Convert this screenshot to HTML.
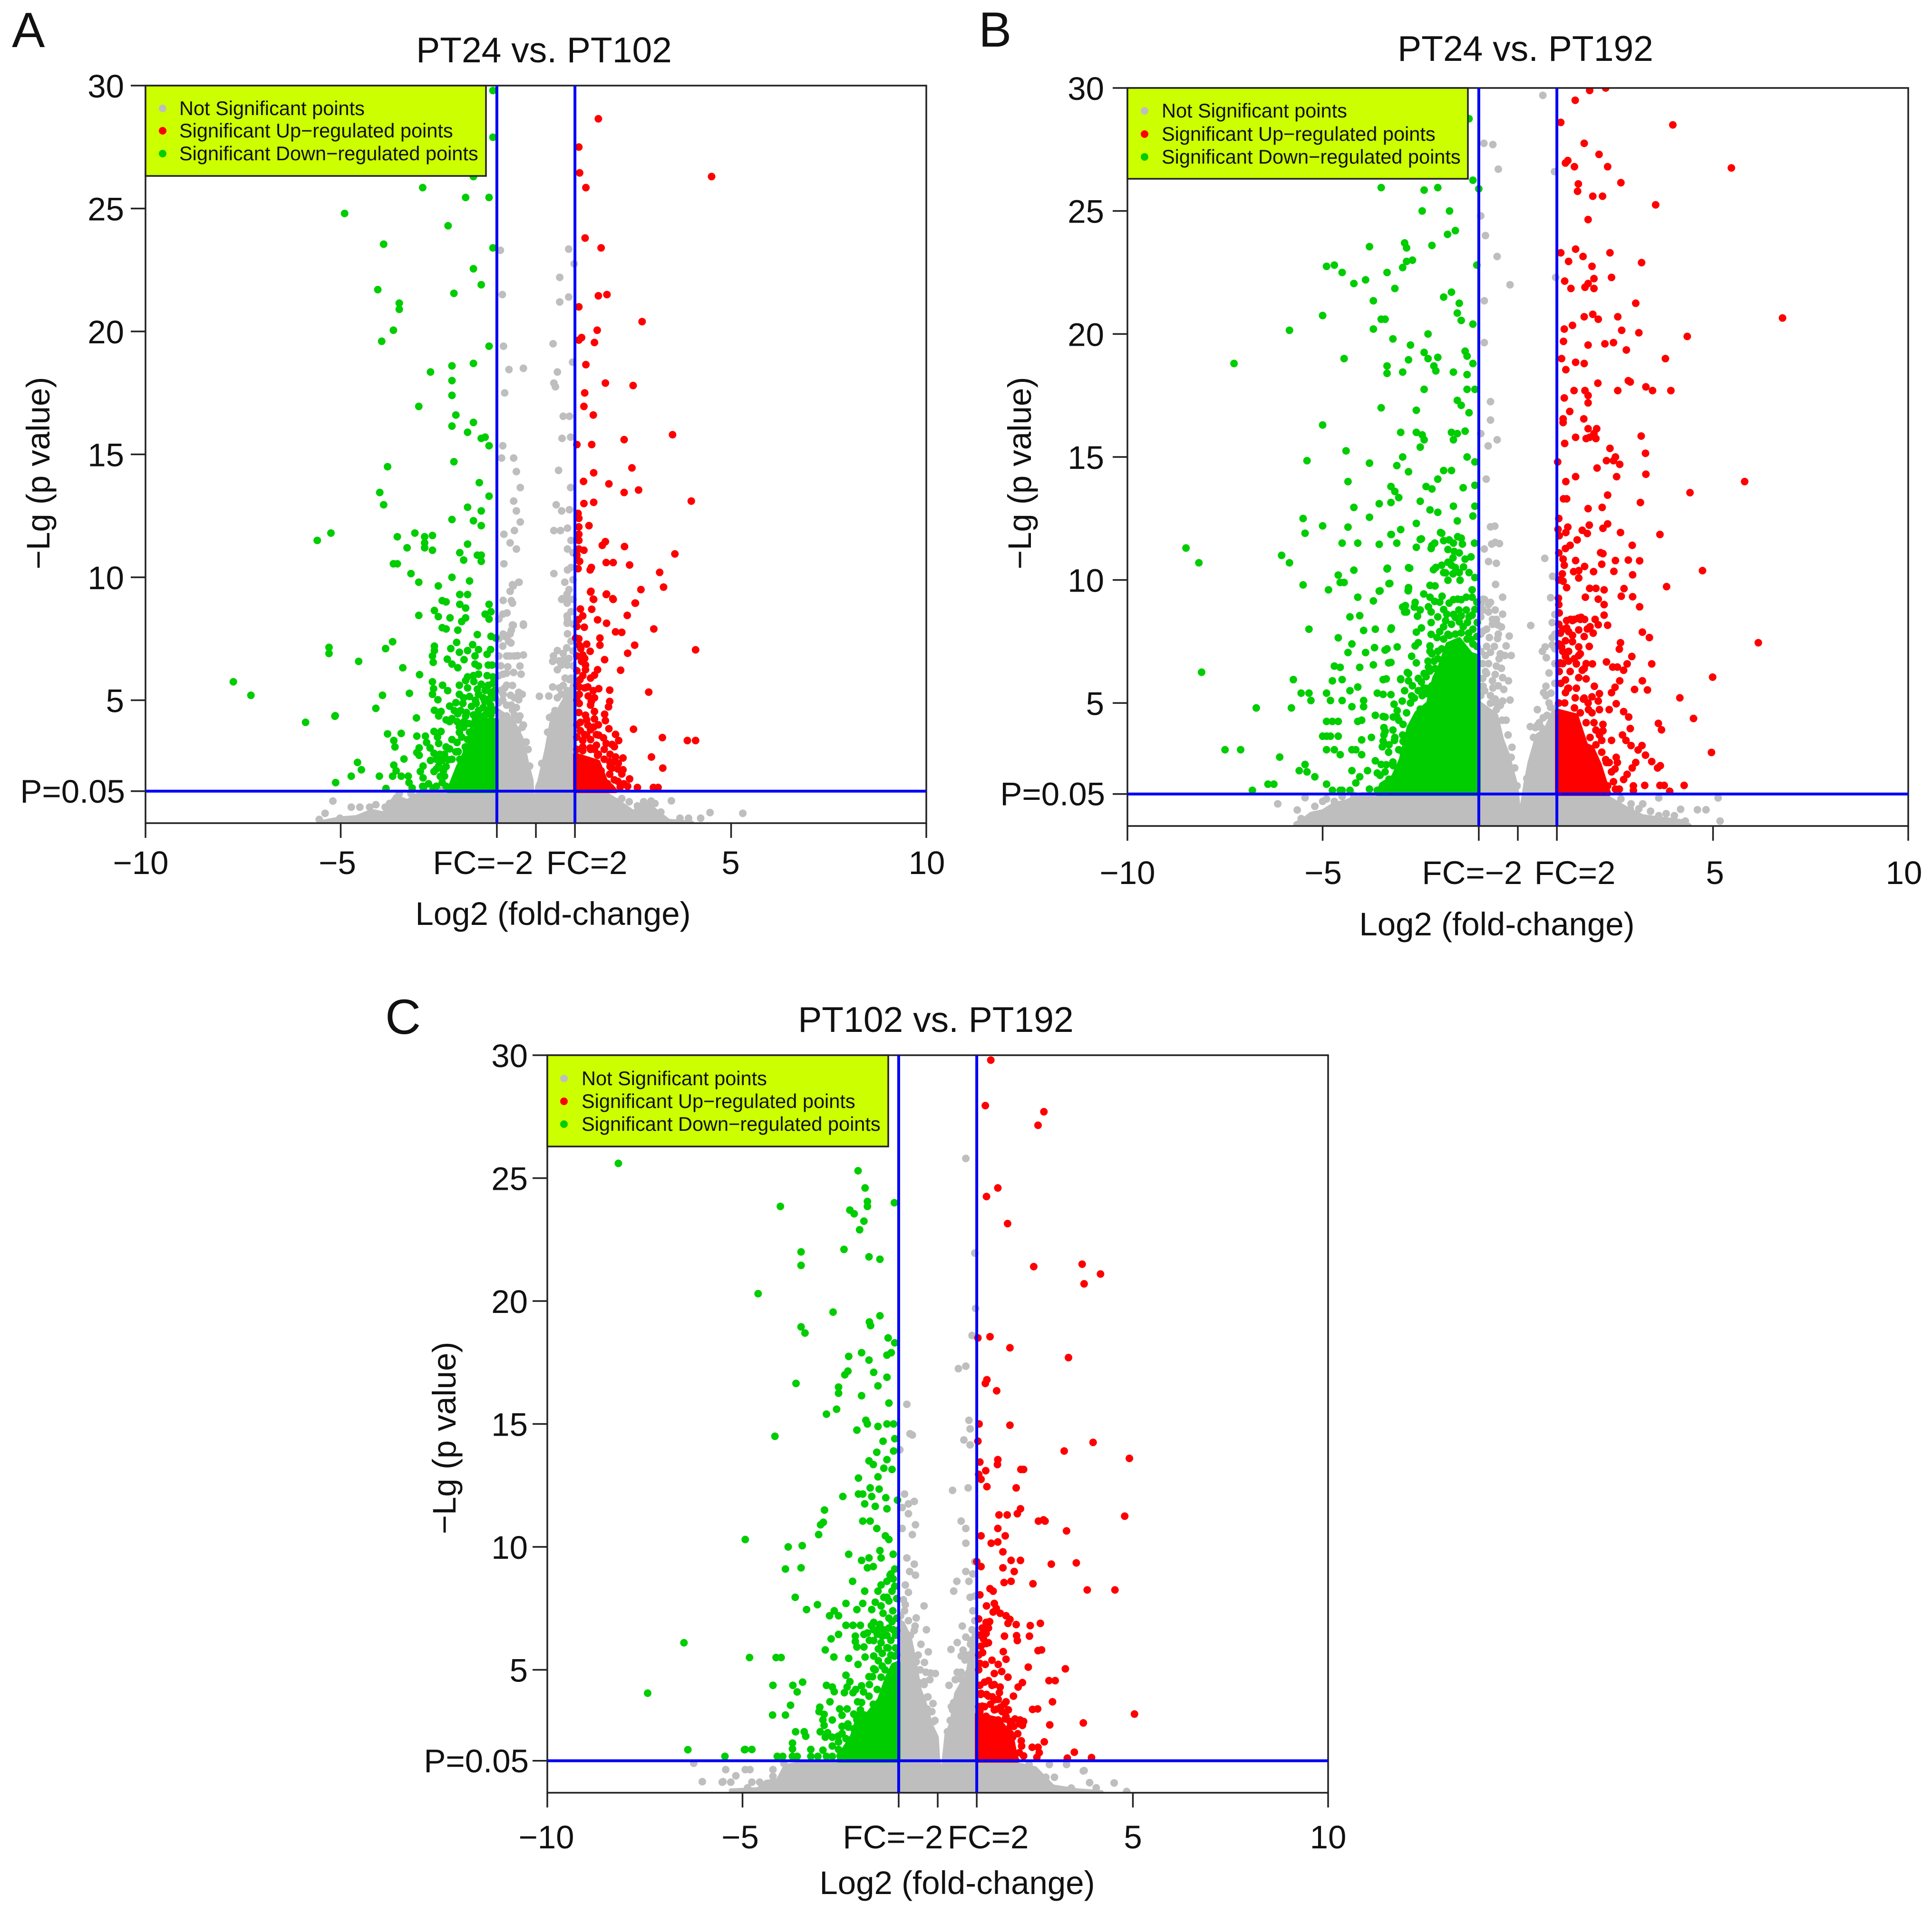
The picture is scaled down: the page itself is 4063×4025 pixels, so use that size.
<!DOCTYPE html>
<html lang="en">
<head>
<meta charset="utf-8">
<title>Volcano plots</title>
<style>
html,body{margin:0;padding:0;background:#fff;}
svg{display:block;}
text{font-family:"Liberation Sans",Arial,sans-serif;fill:#111;}
</style>
</head>
<body>
<svg id="figure" xmlns="http://www.w3.org/2000/svg" width="4063" height="4025" viewBox="0 0 4063 4025">
<rect width="4063" height="4025" fill="#fff"/>
<defs>
<clipPath id="clip-a"><rect x="306" y="180" width="1642" height="1551"/></clipPath>
<clipPath id="clip-b"><rect x="2371" y="185" width="1642" height="1552"/></clipPath>
<clipPath id="clip-c"><rect x="1151" y="2219" width="1642" height="1551"/></clipPath>
</defs>

<g id="panel-a">
<text x="25" y="99" font-size="104">A</text>
<text x="1144" y="131" font-size="75" text-anchor="middle">PT24 vs. PT102</text>
<text x="1163" y="1945" font-size="69" text-anchor="middle">Log2 (fold-change)</text>
<text transform="translate(104,995) rotate(-90)" font-size="69" text-anchor="middle">−Lg (p value)</text>
<g id="marks-a" clip-path="url(#clip-a)"></g>
<g id="axes-a"></g>
<g>
<rect x="306" y="180" width="716" height="190" fill="#ccff00" stroke="#222" stroke-width="3.5"/>
<circle cx="342" cy="228" r="8" fill="#bebebe"/>
<circle cx="342" cy="275" r="8" fill="#ff0000"/>
<circle cx="342" cy="323" r="8" fill="#00cd00"/>
<text x="377" y="242" font-size="41.5">Not Significant points</text>
<text x="377" y="289" font-size="41.5">Significant Up−regulated points</text>
<text x="377" y="337" font-size="41.5">Significant Down−regulated points</text>
</g>
</g>

<g id="panel-b">
<text x="2058" y="98" font-size="104">B</text>
<text x="3208" y="128" font-size="75" text-anchor="middle">PT24 vs. PT192</text>
<text x="3148" y="1967" font-size="69" text-anchor="middle">Log2 (fold-change)</text>
<text transform="translate(2168,995) rotate(-90)" font-size="69" text-anchor="middle">−Lg (p value)</text>
<g id="marks-b" clip-path="url(#clip-b)"></g>
<g id="axes-b"></g>
<g>
<rect x="2371" y="185" width="716" height="191" fill="#ccff00" stroke="#222" stroke-width="3.5"/>
<circle cx="2407" cy="233" r="8" fill="#bebebe"/>
<circle cx="2407" cy="282" r="8" fill="#ff0000"/>
<circle cx="2407" cy="330" r="8" fill="#00cd00"/>
<text x="2443" y="247" font-size="41.5">Not Significant points</text>
<text x="2443" y="296" font-size="41.5">Significant Up−regulated points</text>
<text x="2443" y="344" font-size="41.5">Significant Down−regulated points</text>
</g>
</g>

<g id="panel-c">
<text x="810" y="2174" font-size="104">C</text>
<text x="1968" y="2170" font-size="75" text-anchor="middle">PT102 vs. PT192</text>
<text x="2013" y="3983" font-size="69" text-anchor="middle">Log2 (fold-change)</text>
<text transform="translate(958,3024) rotate(-90)" font-size="69" text-anchor="middle">−Lg (p value)</text>
<g id="marks-c" clip-path="url(#clip-c)"></g>
<g id="axes-c"></g>
<g>
<rect x="1151" y="2219" width="717" height="192" fill="#ccff00" stroke="#222" stroke-width="3.5"/>
<circle cx="1186" cy="2268" r="8" fill="#bebebe"/>
<circle cx="1186" cy="2316" r="8" fill="#ff0000"/>
<circle cx="1186" cy="2364" r="8" fill="#00cd00"/>
<text x="1223" y="2282" font-size="41.5">Not Significant points</text>
<text x="1223" y="2330" font-size="41.5">Significant Up−regulated points</text>
<text x="1223" y="2378" font-size="41.5">Significant Down−regulated points</text>
</g>
</g>
</svg>

<script>
const xTickValues=[-10,-5,-1,0,1,5,10];
const xTickLabels=['−10','−5','FC=−2','','FC=2','5','10'];
const yTickValues=[5,10,15,20,25,30];
const yTickLabels=['5','10','15','20','25','30'];
const pThreshold=1.3;
const pLabel='P=0.05';
const fcThresholds=[-1,1];

/* Dense cloud outlines: [log2 fold change, upper -lg p] */
const aGrayProfile=[[-5.5,.05],[-5,.2],[-4.6,.25],[-4.2,.5],[-3.9,.4],[-3.6,1.1],[-3.3,.9],[-3,1.2],[-2.5,1.4],[-1,1.4],[-.98,4.6],[-.6,4.2],[-.35,3.4],[-.23,2.5],[-.11,1.76],[-.06,.5],[-.02,.45],[.03,1.5],[.08,1.68],[.27,3],[.39,4.06],[.7,4.95],[.9,5.5],[1,6],[1.02,1.3],[1.8,1.2],[2.1,.9],[2.5,.45],[2.8,.9],[3,.6],[3.4,.1],[4,.03]];
const aDownProfile=[[-2.25,1.3],[-2,2.3],[-1.72,3.2],[-1.6,4.2],[-1.07,4.2],[-1,4.2]];
const aUpProfile=[[1,2.8],[1.6,2.5],[1.8,1.7],[1.95,1.5],[2.05,1.3]];
const bGrayProfile=[[-5.7,.1],[-5.5,.25],[-5.3,.5],[-5,.6],[-4.7,.9],[-4.4,1],[-4,1.3],[-1,1.3],[-.98,5],[-.8,4.8],[-.55,4.5],[-.4,3.5],[-.25,2.9],[-.1,2],[-.03,1.6],[.02,.7],[.07,.5],[.12,1],[.2,1.8],[.3,2.6],[.5,3.7],[.7,3.9],[.9,4.6],[1,5],[1.02,1.3],[2.27,1.2],[2.65,.85],[2.83,.68],[3.2,.4],[4.2,.2],[4.4,.03]];
const bDownProfile=[[-3.6,1.3],[-3.5,1.7],[-3.2,2],[-3,2.7],[-2.8,4],[-2.6,4.6],[-2.3,5],[-2.15,6],[-2,6.5],[-1.8,7.4],[-1.5,7.6],[-1.2,7],[-1,6.9]];
const bUpProfile=[[1,4.7],[1.5,4.5],[1.75,3.3],[1.9,3.2],[2.1,2.5],[2.3,1.5],[2.35,1.3]];
const cGrayProfile=[[-5.3,.1],[-4.6,.15],[-4.4,.45],[-4.1,.5],[-3.9,1.1],[-3.5,1.2],[-1,1.3],[-.98,7],[-.89,6.9],[-.71,6.3],[-.58,5.3],[-.46,4.2],[-.34,3.7],[-.15,2.7],[-.02,2.26],[.01,1.44],[.08,.8],[.12,.7],[.16,1.44],[.22,2.33],[.35,2.85],[.47,4.04],[.6,4.4],[.78,5],[.94,6.6],[1,6.6],[1.02,1.3],[1.9,1.22],[2.5,1],[2.95,.26],[3.6,.1],[4.2,.03]];
const cDownProfile=[[-2.55,1.3],[-2.4,1.8],[-2.2,2.3],[-2,3.3],[-1.8,3.2],[-1.5,3.8],[-1.3,4.7],[-1.15,5.2],[-1,5.3]];
const cUpProfile=[[1,3.2],[1.55,3],[1.75,2.6],[1.9,2.3],[2,1.5],[2.05,1.3]];

/* Panel A points: [log2 fold change, -lg p] */
const aGray=[[-.91,23.3],[.84,23.35],[.98,22.75],[.61,22.2],[-.86,21.5],[.84,21.4],[.61,21.2],[-.83,19.4],[.44,19.5],[.94,18.75],[.55,18.35],[-.69,18.45],[-.32,18.5],[.46,17.9],[.5,17.75],[-.8,17.5],[.7,16.55],[.86,16.55],[.67,15.65],[.89,15.7],[-.85,15.35],[-.88,14.85],[-.57,14.85],[-.5,14.3],[.58,14.35],[.89,13.65],[-.4,13.65],[-.57,13.1],[.52,12.95],[.66,12.7],[-.5,12.7],[.86,12.75],[-.4,12.25],[-.82,11.75],[-.55,11.9],[.46,11.9],[.63,11.9],[-.66,11.4],[.81,12],[-.5,11.15],[.81,11.15],[-.82,10.55],[.46,10.15],[.81,10.3],[-.43,9.8],[-.58,9.65],[.74,9.8],[-.63,9.05],[.66,9.1],[.81,9.15],[-.74,8.55],[.81,8.3],[-.32,8.05],[-.58,8.05],[-.66,7.7],[.81,7.7],[-.44,9.8],[-.6,9.7],[-.66,9.43],[-.84,9.06],[-.6,8.95],[.8,9.32],[.68,9.13],[.8,8.95],[.8,8.43],[.8,8.13],[-.32,8.1],[-.6,8.06],[-.63,7.84],[-.84,7.69],[-.64,7.33],[.79,7.13],[.55,7.02],[.43,6.58],[-.66,6.8],[-.32,6.84],[-.47,6.81],[.71,6.65],[.65,6.43],[.55,6.24],[.8,6.43],[.86,5.84],[-.72,6.36],[-.41,6.39],[-.84,6.06],[-.57,6.13],[-.38,6.06],[-.75,5.61],[-.84,5.24],[-.44,5.32],[-.35,5.24],[-.44,5.02],[-.63,4.8],[.09,5.16],[.43,5.54],[.33,5.17],[.65,5.24],[.8,5.39],[.49,4.58],[-.75,4.36],[-.41,4.36],[-.32,3.99],[-.47,3.76],[-.16,2.32],[.15,2.43],[-4.73,.65],[-4.51,.65],[-4.26,.65],[-3.86,.65],[-5.02,.2],[3.47,.91],[4.46,.43],[3.69,.2],[3.91,.2],[4.22,.2],[2.76,.87],[2.39,.87],[2.07,.87],[5.3,.4],[-5.2,.9],[-5.4,.4],[-5.55,.15],[-5,.15],
[-.95,4.9],[-.85,5],[-.75,4.8],[-.6,4.6],[-.55,4.4],[-.9,5.4],[-.8,5.5],[-.65,5.2],[-.55,5.1],[-.95,6],[-.9,6.4],[-.75,6.1],[-.6,5.6],[-.95,6.8],[-.85,7.2],[-.75,6.8],[-.55,6.8],[-.95,7.5],[-.8,7.6],[-.7,7.4],[-.95,8.3],[-.85,8.5],[-.35,3.9],[-.45,4.2],[-.25,3.3],[-.2,3],[-.5,4.7],[.45,4.4],[.35,4.3],[.3,3.7],[.55,5.1],[.6,5.5],[.7,5.6],[.75,5.9],[.9,5.9],[.95,6.4],[.85,6.7],[.95,7],[.9,7.4],[.7,6.9],[.6,6.6],[.45,6.8],[.95,8.1],[.9,8.6],[.95,9.1],[.85,9.5],[.95,9.9],[.9,10.4],[.95,11],[.9,11.5],[-3.75,.8],[-4.1,.75],[-3.5,1.2],[-3.2,1.2],[2.2,1],[2.6,.7],[2.95,.9],[3.2,.45],[3.05,.8]];
const aDown=[[-1.1,29.8],[-1.1,27.9],[-1.6,26.3],[-2.9,25.85],[-1.8,25.45],[-1.2,25.45],[-4.9,24.8],[-2.25,24.3],[-3.9,23.55],[-1.1,23.4],[-1.6,22.55],[-1.4,21.9],[-4.05,21.7],[-2.1,21.55],[-3.5,21.15],[-3.5,20.9],[-3.65,20.05],[-3.95,19.6],[-1.2,19.4],[-1.6,18.7],[-2.15,18.6],[-2.7,18.35],[-2.15,18],[-2.15,17.4],[-3,16.95],[-2.05,16.6],[-1.6,16.3],[-2.15,16.15],[-1.75,15.9],[-1.4,15.65],[-1.3,15.7],[-1.2,15.35],[-2.1,14.7],[-3.8,14.5],[-4,13.45],[-1.45,13.85],[-1.2,13.3],[-3.9,12.95],[-1.75,12.85],[-1.4,12.7],[-2.15,12.35],[-1.6,12.3],[-1.4,12.1],[-5.6,11.5],[-5.25,11.8],[-3.55,11.65],[-3.1,11.8],[-2.85,11.65],[-2.85,11.4],[-2.65,11.7],[-3.3,11.2],[-2.85,11.2],[-2.65,11.1],[-1.75,11.35],[-1.95,11],[-1.5,10.9],[-1.4,10.9],[-1.85,10.7],[-1.4,10.65],[-3.65,10.55],[-3.55,10.55],[-3.2,10.15],[-3,9.8],[-2.15,10],[-1.7,9.85],[-2.5,9.65],[-1.95,9.3],[-1.75,9.3],[-2.4,9.05],[-2.3,9],[-1.95,8.9],[-1.8,8.75],[-1.2,8.9],[-1.15,8.6],[-2.6,8.65],[-2.5,8.4],[-3,8.45],[-2.2,8.35],[-1.9,8.2],[-1.8,8.35],[-1.3,8.5],[-1.2,8.3],[-2.4,7.95],[-2.3,7.9],[-2,7.85],[-1.15,7.6],[-7.75,5.75],[-7.3,5.2],[-5.9,4.1],[-5.15,4.35],[-5.3,7.15],[-5.3,6.9],
[-1.5,7.67],[-1.03,7.53],[-3.67,7.38],[-3.85,7.1],[-2.03,7.35],[-2.6,7.2],[-2.6,7.02],[-2.65,6.8],[-2.63,6.54],[-2.18,7.1],[-1.96,6.95],[-1.75,7.02],[-1.62,7.26],[-1.47,7.06],[-1.16,7.06],[-1.25,6.87],[-4.54,6.58],[-2.27,6.67],[-2.15,6.47],[-2,6.32],[-1.84,6.65],[-1.56,6.8],[-1.56,6.47],[-1.47,6.39],[-1.22,6.43],[-1.12,6.43],[-3.41,6.32],[-2.98,6.04],[-1.47,6.06],[-1.1,5.95],[-2.65,5.75],[-2.62,5.47],[-2.65,5.24],[-2.51,5.02],[-2.39,5.61],[-2.26,5.39],[-1.96,5.61],[-1.8,5.8],[-1.59,5.76],[-1.4,5.65],[-1.22,5.61],[-1.1,5.69],[-1.75,5.5],[-1.96,5.24],[-1.47,5.24],[-1.16,5.32],[-1.12,5.1],[-3.24,5.28],[-3.93,5.2],[-1.87,4.87],[-1.53,4.87],[-1.31,4.95],[-1.16,4.8],[-2.21,4.76],[-2.09,4.58],[-1.93,4.58],[-2.6,4.59],[-2.43,4.54],[-2.49,4.36],[-1.47,4.58],[-1.78,4.5],[-1.22,4.58],[-4.1,4.67],[-5.14,4.37],[-3.06,4.28],[-2.21,4.13],[-2.02,4.13],[-1.96,3.91],[-1.84,4.13],[-1.96,3.69],[-3.8,3.63],[-3.45,3.65],[-3.64,3.36],[-3.61,3.1],[-3.05,3.54],[-2.83,3.54],[-2.8,3.28],[-2.61,3.73],[-2.43,3.73],[-2.52,3.5],[-2.49,3.24],[-2.99,3.06],[-3.05,2.87],[-2.99,2.76],[-2.71,3.06],[-2.61,2.84],[-2.46,2.8],[-2.34,2.8],[-2.21,3.02],[-2.02,3.28],[-1.81,3.1],[-1.99,2.91],[-1.78,2.95],[-3.38,2.61],[-2.24,2.58],[-4.57,2.47],[-4.47,2.17],[-3.64,2.36],[-3.58,2.13],[-3.67,1.91],[-4.01,1.91],[-4.73,1.91],[-3.45,1.91],[-3.27,1.91],[-3.25,1.65],[-3.17,1.43],[-5.13,1.65],[-3.84,1.41],[-2.89,2.32],[-2.96,2.1],[-2.89,1.84],[-2.61,2.1],[-2.49,2.32],[-2.37,2.13],[-2.34,1.91],[-2.4,1.65],[-2.88,1.43],[-2.63,1.43],
[-2.9,1.5],[-2.75,1.6],[-2.55,1.5],[-2.45,1.9],[-2.3,1.5],[-2.55,2.2],[-2.3,2.3],[-2.7,2.55],[-2.55,2.6],[-2.4,2.55],[-2.15,2.6],[-2.05,2.9],[-1.95,2.6],[-2.3,3.1],[-2.15,3.4],[-1.9,3.5],[-1.75,3.4],[-1.85,3.9],[-1.7,3.7],[-1.72,4.05],[-1.6,4.4],[-1.45,4.35],[-1.3,4.4],[-1.15,4.4],[-1.05,4.6],[-1.35,4.7],[-1.65,4.75],[-1.8,4.35],[-2,4.45],[-2.15,4.25],[-2.3,4.2],[-1.55,5],[-1.35,5.1],[-1.2,5.05],[-1.05,5.1],[-1.7,5.15],[-1.85,5.1],[-2.05,4.9],[-1.3,5.4],[-1.5,5.45],[-1.05,5.4],[-1.05,5.9],[-1.25,6],[-1.6,6],[-1.75,5.95]];
const aUp=[[1.6,28.65],[1.1,27.5],[4.5,26.3],[1.12,26.45],[1.28,25.85],[1.26,23.8],[1.67,23.4],[1.6,21.45],[1.82,21.5],[1.1,21],[2.72,20.4],[1.17,19.75],[1.1,19.65],[1.57,20.05],[1.5,19.55],[1.28,18.65],[1.78,17.9],[2.49,17.8],[1.25,17.5],[1.23,16.95],[1.47,16.6],[3.5,15.8],[2.26,15.6],[1.43,15.4],[1.05,15.4],[2.46,14.45],[1.48,14.25],[1.22,13.9],[1.87,13.8],[2.63,13.55],[2.26,13.45],[3.98,13.1],[1.23,13],[1.48,13.05],[1.08,12.6],[1.1,12.4],[1.36,12.1],[1.1,12.05],[1.1,11.75],[1.1,11.5],[1.78,11.45],[1.7,11.3],[2.27,11.25],[3.56,10.95],[1.23,11.1],[1.1,11.15],[1.05,10.9],[1.12,10.65],[1.08,10.35],[1.42,10.4],[1.39,10.3],[1.8,10.6],[1.98,10.6],[2.4,10.5],[3.17,10.2],[3.27,9.6],[2.69,9.5],[1.4,9.4],[1.8,9.3],[1.48,9.1],[1.98,9.1],[2.55,8.95],[2.34,8.45],[3.02,7.9],[4.09,7.05],
[1.41,9.43],[1.81,9.32],[1.97,9.13],[1.47,9.11],[2.54,8.95],[1.14,8.71],[1.43,8.7],[1.2,8.43],[1.09,8.28],[1.58,8.27],[1.81,8.13],[1.24,7.97],[2.04,7.78],[2.2,7.76],[1.64,7.53],[1.02,7.53],[1.3,7.28],[1.11,7.24],[1.64,7.24],[2.53,7.24],[1.39,6.99],[2.35,6.91],[1.2,6.84],[1.76,6.65],[1.17,6.58],[1.27,6.43],[1.27,6.24],[2.17,6.22],[1.58,6.24],[1.5,6.02],[1.13,5.84],[1.11,5.54],[1.33,5.54],[1.61,5.47],[1.47,5.39],[1.89,5.41],[2.89,5.33],[1.11,5.24],[1.34,5.17],[1.42,4.95],[1.89,4.95],[1.86,4.73],[1.11,4.87],[1.5,4.54],[1.76,4.43],[1.27,4.39],[1.5,4.24],[1.78,4.17],[1.14,4.1],[1.33,3.99],[1.48,3.91],[1.87,3.84],[2.5,3.82],[1.14,3.76],[1.3,3.58],[1.61,3.58],[2.04,3.61],[1.73,3.47],[3.24,3.48],[3.88,3.36],[4.09,3.36],[2.12,3.36],[1.2,3.36],[1.8,3.24],[2.01,3.11],[1.55,3.17],[1.39,3.06],[1.2,2.95],[1.58,2.76],[2.04,2.69],[2.23,2.65],[2.96,2.69],[1.89,2.5],[1.33,2.5],[2.11,2.43],[3.25,2.24],[1.48,2.28],[1.95,2.24],[2.23,2.17],[1.67,2.13],[1.89,1.99],[2.01,1.76],[1.83,1.61],[2.16,1.47],[2.6,1.45],[3.01,1.45],[3.13,1.45],
[1.05,3],[1.2,3.1],[1.4,3],[1.6,2.8],[1.75,2.6],[1.9,2.3],[1.05,3.5],[1.25,3.6],[1.4,3.4],[1.5,3],[1.75,3],[1.9,2.8],[2,2.5],[2.1,2.2],[2.2,2],[2.1,1.7],[2.25,1.6],[2.35,1.5],[2.4,1.8],[1.05,4],[1.1,4.5],[1.05,5],[1.05,5.6],[1.05,6.2],[1.05,6.8],[1.15,7.1],[1.25,6.7],[1.1,7.5],[1.05,8],[1.3,4.2],[1.4,3.8],[1.55,3.6],[1.95,3.2],[1.6,4],[1.4,4.8],[1.25,5.5],[1.2,6],[1.4,5.9],[1.5,5.1]];

/* Panel B points */
const bGray=[[.64,29.7],[-.87,27.75],[-.64,27.7],[-.5,26.7],[.94,26.6],[-.95,24.8],[-.83,24],[-.53,23.15],[-.2,22],[.97,22.3],[-.86,21.35],[-.86,19.65],[-.7,17.25],[-.7,16.5],[-.53,15.7],[-.76,15.45],[-.95,15.95],[-.81,14.1],[-.7,12.16],[-.59,12.19],[-.67,11.46],[-.58,11.53],[-.47,11.48],[-.86,11.26],[-.75,10.75],[-.55,10.68],[.69,10.88],[.89,10.15],[-.57,9.82],[-.39,9.3],[.84,9.28],[-.89,9.22],[-.7,9.09],[-.58,8.78],[-.89,8.78],[-.39,8.61],[-.52,8.18],[-.42,8.09],[.33,8.15],[.88,8.27],[-.89,7.92],[-.22,7.72],[-.73,7.66],[-.52,7.62],[.88,7.66],[-.3,7.32],[.88,7.36],[.7,7.28],[.63,7.1],[.73,6.84],[-.83,6.93],[-.7,7.06],[-.17,6.93],[-.48,6.8],[-.33,6.93],[-.42,6.41],[-.83,6.28],[.8,6.22],[-.58,6.16],[-.39,6.03],[-.24,5.9],[-.89,5.68],[-.64,5.61],[-.36,5.55],[.72,5.68],[.66,5.42],[.72,5.29],[-.2,5.12],[-.58,5.16],[-.39,5.08],[-.7,4.99],[.5,4.73],[.84,4.82],[-.55,4.73],[-.76,4.43],[.32,4.04],[.5,4.09],[-.17,2.79],[-.08,2.36],[.23,1.93],[-.02,1.63],[-6.15,.9],[-5.45,1.15],[-5.65,.65],[-5.55,.3],[-5.2,.8],[-5,1],[-5.15,.3],[-4.7,1],[3.61,1.14],[5.13,1.14],[4.17,.68],[4.6,.66],[4.82,.66],[3.61,.42],[4.01,.42],[4.29,.2],[5.18,.2],[3.2,.9],[2.88,.68],[2.64,1.1],[2.4,.95],
[-.95,5.3],[-.85,5.5],[-.7,5.3],[-.55,5],[-.45,4.9],[-.3,4.3],[-.25,3.7],[-.15,3.2],[-.4,4.3],[-.9,6],[-.8,6.2],[-.65,5.9],[-.5,5.7],[-.9,6.6],[-.75,6.6],[-.55,6.5],[-.95,7.1],[-.8,7.3],[-.6,7.3],[-.45,7],[-.95,7.8],[-.8,8],[-.65,8.2],[-.5,7.8],[-.95,8.5],[-.75,8.7],[-.65,8.4],[-.55,8.4],[-.95,9],[-.85,9.2],[-.75,9],[.8,5],[.75,4.5],[.85,5.4],[.95,5.8],[.95,6.6],[.95,7.2],[.95,7.8],[.55,4.2],[.6,4],[.65,4.4],[.95,8.6],[.45,4],[.4,3.6],[2.9,.9],[3.1,.7],[3.4,.6],[3.8,.5],[-4.9,1.1],[-4.5,1.2],[-4.2,1.25]];
const bDown=[[-7.27,18.8],[-8.5,11.3],[-8.17,10.7],[-8.1,6.25],[-6.7,4.8],[-7.5,3.1],[-7.1,3.1],[-6.1,2.8],[-6.8,1.45],[-6.4,1.7],[-6.25,1.7],[-6.05,11],[-5.85,10.7],[-5.85,20.15],[-5,20.75],[-5,16.3],[-5.5,12.5],[-5,12.2],[-5.45,11.9],[-5.5,9.8],[-5.4,14.85],[-5.35,8],[-5.75,5.95],[-5.55,5.4],[-5.35,5.4],[-5.8,4.8],[-5.3,5.1],[-5.6,2.25],[-5.45,2.5],[-5.4,2.2],[-5.2,2],[-4.9,1.7],[-4.75,1.45],[-4.55,1.45],[-4.9,22.75],[-4.7,22.8],[-4.5,22.5],[-4.2,22.05],[-3.9,22.2],[-3.8,23.55],[-3.35,22.5],[-3.15,21.85],[-2.95,22.7],[-2.9,23.7],[-2.85,23.5],[-2.85,22.95],[-2.7,23],[-2.2,23.6],[-1.8,24.05],[-1.6,24.2],[-2.45,25],[-1.75,25],[-2.4,25.85],[-2.05,25.95],[-3.5,25.95],[-1.15,26.25],[-1,25.9],[-1.25,28.75],[-1.05,22.8],[-1.9,21.5],[-1.7,21.7],[-1.5,21.25],[-1.55,20.85],[-1.45,20.55],[-1.15,20.4],[-3.7,21.35],[-3.5,20.6],[-3.4,20.6],[-3.7,20.2],[-3.2,19.8],[-2.3,20],[-4.45,19],[-2.75,19.55],[-2.4,19.25],[-2.8,18.95],[-2.3,19],[-2.05,19.05],[-2.15,18.7],[-2.1,18.5],[-3.35,18.7],[-3.35,18.4],[-2.95,18.45],[-1.65,18.45],[-1.35,19.3],[-1.3,19.1],[-1.15,18.8],[-1.3,18.35],[-2.4,17.75],[-1.3,17.75],[-1.1,17.75],[-1.55,17.3],[-1.45,17.1],[-3.5,17],[-2.6,16.9],[-1.25,16.8],[-3,16],[-2.6,16],[-2.45,15.9],[-2.4,15.7],[-1.7,16],[-1.65,15.7],[-1.55,15.95],[-1.35,16.05],[-4.4,15.25],[-3.8,14.75],[-2.95,15],[-3.1,14.65],[-2.8,14.4],[-2.5,15.4],[-1.3,15],[-1.1,14.8],[-1.9,14.45],[-1.7,14.45],[-2.05,14.1],[-3.25,13.8],[-3.15,13.6],[-4.35,14],[-2.35,13.8],[-2.2,13.7],[-1.4,13.75],[-1.1,13.85],[-4.2,12.95],[-3.55,13.1],[-3.25,13.15],[-3.05,13.35],[-2.5,13.2],[-1.65,13],[-1.1,13],[-2.25,12.85],[-2.05,12.75],[-4.35,12.15],[-3.8,12.55],[-2.6,12.3],[-1.55,12.4],[-1.15,12.6],[-1.95,11.9],[-3.25,11.85],[-3,12.05],[-4.5,11.5],[-4.1,11.5],[-3.55,11.45],[-3.1,11.5],[-2.5,11.65],[-2.2,11.4],
[-1.54,11.76],[-1.76,11.63],[-1.42,11.46],[-1.79,11.24],[-1.63,11.16],[-1.11,11.5],[-1.2,10.94],[-1.35,10.85],[-1.66,10.9],[-1.79,10.72],[-1.7,10.6],[-1.39,10.53],[-2.1,10.51],[-2.16,10.42],[-1.85,10.29],[-1.66,10.25],[-1.79,9.99],[-1.48,9.99],[-2.6,11.33],[-2.47,11.67],[-2.22,11.28],[-2.13,11.5],[-1.98,11.93],[-3.24,11.85],[-3.34,10.48],[-2.77,10.48],[-3.28,9.86],[-2.8,9.69],[-2.81,9.56],[-3.53,9.56],[-2.25,9.78],[-2.12,9.76],[-1.17,9.6],[-2.41,9.43],[-2.25,9.3],[-1.94,9.34],[-2.63,9.09],[-2.13,9.13],[-1.76,9.06],[-1.54,9.22],[-1.32,9.3],[-1.17,9.3],[-2.88,8.96],[-2.85,8.7],[-2.5,8.78],[-2.57,8.53],[-2.29,8.91],[-2.22,8.7],[-2.22,8.27],[-1.82,8.61],[-1.85,8.35],[-1.51,8.78],[-1.32,8.78],[-1.17,8.57],[-1.6,8.48],[-1.29,8.27],[-1.04,8.27],[-3.24,8.05],[-2.47,8.05],[-2.6,7.88],[-2.22,7.79],[-1.79,7.79],[-2.07,7.66],[-1.26,7.84],[-1.2,7.58],[-2.55,7.45],[-2.63,7.32],[-3.09,7.28],[-3.4,7.15],[-2.25,7.32],[-2.25,7.1],[-2.72,6.9],[-2.6,6.63],[-3.31,6.63],[-2.29,6.46],[-2.83,6.24],[-3,5.98],[-3.37,5.98],[-2.8,5.9],[-2.35,6.07],[-2.47,5.85],[-2.41,5.6],[-3.25,5.34],[-2.32,5.38],[-2.72,5.29],[-2.96,5.08],[-3.17,4.95],[-3.09,4.69],[-3.4,4.43],[-3.19,4.43],[-3.43,4],[-3.43,3.7],[-3.16,3.48],[-2.94,3.44],[-2.94,4.13],[-3.31,3],[-3.47,3.22],[-3.37,2.49],[-3.19,2.45],[-3.53,2.06],[-3.16,1.97],
[-5,3.65],[-4.9,3.65],[-4.8,3.65],[-4.6,3.65],[-4.6,4.25],[-4.75,4.25],[-4.9,4.25],[-4.75,5.9],[-4.7,6.5],[-4.55,6.45],[-4.5,5.95],[-4.9,5.4],[-4.8,5.1],[-4.5,5.1],[-4.3,5.5],[-4.1,5.65],[-4.25,4.85],[-3.95,5.1],[-3.95,4.85],[-3.6,5.4],[-4.1,4.25],[-4,4.3],[-4.6,7.65],[-4.35,7.05],[-4.25,7.4],[-4.3,8.5],[-3.95,7.95],[-3.65,8],[-3.25,8],[-3.9,7.05],[-3.67,7.25],[-3.35,7.2],[-4.05,6.45],[-3.7,6.55],[-3.25,6.65],[-3,5.95],[-2.8,6.2],[-3.45,5.95],[-3.45,5.35],[-3.65,4.5],[-3.45,4.45],[-3.1,4.45],[-4.55,9.9],[-4.45,9.9],[-4.85,9.6],[-4.6,10.2],[-4.2,10.4],[-4.1,9.3],[-3.7,9.15],[-3.55,9.55],[-3.3,9.85],[-3.35,10.45],[-2.8,10.5],[-2.8,9.65],[-2.95,8.9],[-2.9,8.7],[-2.65,8.9],[-4.05,8.55],[-4.9,3.1],[-4.7,3.1],[-4.55,2.9],[-4.25,3.1],[-4.15,3.1],[-4,2.9],[-4.25,2.25],[-4.05,2],[-3.65,2.65],[-3.5,2.5],[-3.85,2.25],[-3.6,2.15],[-3.45,3.45],[-3.15,3.6],[-3.4,3.85],[-3.75,3.6],[-4,3.5],[-4.5,1.45],[-4.3,1.45],[-4.15,1.75],[-3.8,1.5],[-3.6,1.45],[-3.3,1.9],[-3,2.25],[-2.95,3],[-2.75,4],[-2.5,4.75],[-2.2,5.7],[-2.4,5.45],
[-3.4,2.2],[-3.2,2.6],[-3.3,3.3],[-3.05,3.1],[-3.2,3.9],[-2.95,3.7],[-3.05,4.3],[-2.85,4.6],[-2.75,5],[-2.65,5.2],[-2.9,5.5],[-2.55,5.5],[-2.7,5.7],[-2.45,5.3],[-2.35,5.6],[-2.25,5.6],[-2.55,6],[-2.4,6.2],[-2.25,6.3],[-2.12,6.4],[-2.3,6.7],[-2.15,6.7],[-2.05,6.8],[-2.2,7],[-2.05,7.1],[-1.95,7.2],[-1.9,7.6],[-1.75,7.75],[-1.6,7.8],[-1.45,7.85],[-1.3,7.6],[-1.15,7.4],[-1.05,7.3],[-2,7.9],[-1.9,8.1],[-1.7,8.2],[-1.5,8.3],[-1.4,8.1],[-1.15,8],[-1.05,7.7],[-1.65,8.6],[-1.45,8.55],[-1.25,8.5],[-1.1,8.8],[-1.9,8.8],[-2.05,8.5],[-2,9.1],[-1.65,9.2],[-1.45,9.2],[-1.05,9.1],[-1.1,10.1],[-1.25,10.3],[-1.5,10.3],[-1.6,10.5],[-1.5,11.1],[-1.45,11.7],[-1.65,11.5],[-1.9,11.6],[-1.9,10.3],[-1.95,10.6]];
const bUp=[[1.84,29.9],[2.25,30],[1.47,29.5],[1.1,28.6],[3.97,28.5],[1.7,27.75],[2.08,27.3],[1.28,27.05],[1.22,26.95],[1.45,26.8],[2.3,26.8],[5.47,26.75],[2.64,26.15],[1.55,26.1],[1.53,25.8],[1.92,25.6],[2.17,25.6],[3.53,25.25],[1.8,24.65],[1.48,23.45],[1.1,23.3],[2.36,23.3],[1.67,23.15],[1.3,22.95],[3.17,22.9],[1.9,22.75],[1.95,22.25],[2.4,22.3],[1.2,22.15],[1.8,22.05],[1.72,21.9],[1.36,21.85],[1.95,21.85],[3.02,21.25],[6.78,20.65],[1.92,20.8],[1.7,20.7],[2.56,20.7],[2.06,20.6],[1.4,20.35],[1.19,20.2],[2.66,20.15],[3.1,20.05],[4.34,19.9],[1.17,19.7],[1.8,19.55],[2.23,19.6],[2.45,19.65],[2.78,19.35],[1.12,19],[3.78,19],[1.48,18.85],[1.7,18.8],[1.23,18.55],[2.88,18.05],[2.83,18.1],[2.05,18],[3.28,17.85],[3.45,17.7],[3.92,17.7],[2.56,17.7],[1.44,17.7],[1.72,17.7],[1.8,17.5],[1.19,17.4],[1.8,17.2],[1.33,16.85],[1.16,16.55],[1.16,16.4],[1.69,16.55],[2.02,16.15],[1.8,16.15],[1.95,15.95],[1.84,15.8],[3.16,15.85],[2,15.75],[1.48,15.8],[1.75,15.75],[1.2,15.55],[2.36,15.35],[3.27,15.15],[2.5,15],[2.45,14.85],[2.27,14.85],[2.61,14.7],[1.02,14.8],[2.03,14.55],[3.28,14.3],[1.48,14.2],[1.23,14],[5.81,14],[2.53,14.2],[4.41,13.55],[2.3,13.45],[1.17,13.3],[1.25,13.3],[2.16,12.95],[3.14,13.15],[1.8,12.9],
[1.03,12.06],[1.28,12.15],[1.23,11.93],[1.83,12.23],[1.65,12.02],[1.78,11.89],[2.18,12.1],[2.3,12.28],[2.63,11.93],[3.64,11.85],[1.06,11.8],[1.52,11.63],[1.34,11.41],[1.22,11.28],[2.93,11.41],[2.12,11.11],[2.18,11.07],[2.15,10.64],[1.16,10.85],[1.19,10.6],[1.48,10.79],[2.5,10.79],[2.83,10.81],[3.12,10.78],[4.73,10.38],[1.71,10.55],[1.56,10.38],[1.43,10.34],[1.94,10.34],[2.46,10.35],[2.94,10.21],[1.14,10.25],[1.56,10.08],[1.16,9.95],[1.25,9.69],[1.84,9.66],[2,9.66],[2.21,9.6],[2.72,9.65],[3.81,9.73],[2.65,9.34],[2.94,9.32],[1.73,9.3],[2.06,9.22],[1.04,9.26],[2.21,9],[3.12,8.91],[1.06,8.66],[2.21,8.57],[1.62,8.48],[1.4,8.35],[1.25,8.35],[1.71,8.4],[1.98,8.4],[2.06,8.18],[2.3,8.16],[1.25,8.05],[1.56,7.97],[1.78,8.01],[1.93,7.84],[3.19,7.88],[3.37,7.66],[1.09,7.84],[1.4,7.75],[1.22,7.53],[1.12,7.28],[1.4,7.49],[1.56,7.28],[1.83,7.3],[2.63,7.45],[2.6,7.19],[6.16,7.45],[1.22,6.89],[1.56,6.93],[2.92,6.89],[1.09,6.63],[1.5,6.59],[1.91,6.59],[2.27,6.67],[2.43,6.46],[2.55,6.46],[2.8,6.59],[2.71,6.33],[3.43,6.59],[1.06,6.28],[1.34,6.28],[1.65,6.33],[1.22,5.94],[1.56,6.03],[1.75,5.98],[2.61,5.9],[2.49,5.64],[3.19,5.9],[4.99,6.05],[2.99,5.55],[3.32,5.53],[2.4,5.42],[1.28,5.59],[1.96,5.68],[2.09,5.38],[4.15,5.21],[1.22,5.42],[1.47,5.21],[1.68,5.16],[1.9,5.25],[2.06,5.08],[2.52,4.97],[2.09,4.73],[2.34,4.73],[1.81,4.73],[2.71,4.65],[2.84,4.43],[4.5,4.37],[3.6,4.17],[3.68,3.91],[2.18,4.13],[2.18,3.87],[2.88,3.96],[2.09,3.7],[2.68,3.7],[2.15,3.48],[2.4,3.48],[2.77,3.48],[2.9,3.27],[3.18,3.27],[3.08,3.09],[3.27,2.88],[4.96,2.99],[3.43,2.62],[3.65,2.45],[3.58,2.36],[2.52,2.79],[2.55,2.58],[2.34,2.58],[2.49,2.32],[3.02,2.58],[2.93,2.36],[2.8,2.1],[2.71,1.89],[2.96,1.63],[2.96,1.44],[3.25,1.65],[3.64,1.65],[3.75,1.65],[4.26,1.65],[3.89,1.41],[2.06,1.97],[2.3,1.63],[2.27,2.58],
[1.05,5],[1.2,5],[1.45,4.8],[1.6,4.6],[1.75,4.2],[1.85,3.6],[2,3.3],[2.15,3],[2.25,2.7],[2.4,2.2],[2.45,1.8],[2.5,1.5],[2.6,1.5],[1.3,5.6],[1.1,5.8],[1.5,5.6],[1.7,5.2],[1.8,5],[1.9,4.6],[1.95,4.2],[2,3.9],[1.05,6.6],[1.15,6.6],[1.3,6.7],[1.45,6.8],[1.7,6.4],[1.75,6.6],[1.3,7.1],[1.15,7.1],[1.6,7],[1.05,7.4],[1.3,7.9],[1.15,8],[1.7,7.7],[1.85,8.1],[1.6,8.4],[1.35,8.4],[1.45,8.4],[1.55,8.45],[1.05,8.2],[1.05,9],[1.05,10],[1.05,11.1],[1.05,12.5]];

/* Panel C points */
const cGray=[[.72,25.8],[.95,21.95],[.97,19.7],[.88,18.6],[.53,17.25],[.72,17.35],[-.79,15.8],[.8,15.15],[.83,14.8],[-.71,14.6],[-.65,14.55],[.67,14.35],[.83,14.15],[-.97,13.95],[.38,12.3],[.78,12.4],[-.85,12.15],[-.75,11.75],[-.6,11.85],[-.91,11.6],[-.75,11.35],[.6,11.05],[-.57,10.9],[.72,10.75],[-.91,10.75],[-.65,10.5],[.72,10.15],[-.79,9.55],[-.6,9.3],[-.72,9],[-.57,8.85],[.72,9],[.49,8.6],[.41,8.2],[.8,8.6],[.83,7.95],[-.83,8.45],[-.75,8.15],[-.88,7.85],[-.83,7.65],[-.35,7.6],[-.55,7.11],[-.58,6.78],[-.29,6.63],[.63,6.78],[.88,6.63],[.72,6.33],[.5,6.11],[-.43,6.04],[.34,5.83],[-.24,5.73],[.6,5.56],[.75,5.59],[.84,6.04],[-.55,5.33],[-.34,5.3],[-.18,4.87],[-.06,4.85],[-.34,4.52],[.58,4.63],[.29,4.37],[-.27,3.89],[-.12,3.63],[.41,3.67],[.38,3.37],[-.27,3.41],[-.07,2.94],[.32,2.94],[.25,2.48],[-5.43,.94],[-4.93,.94],[-4.81,.94],[-4.22,.94],[-3.94,1.19],[-5.17,.69],[-5.52,.43],[-5.3,.43],[-4.87,.2],[-4.76,.43],[-4.56,.43],[-4.22,.67],[-3.9,.67],[2.86,1.15],[3.3,1.15],[3.73,.89],[2.77,.63],[2.99,.63],[3.89,.41],[3.42,.19],[2.34,1.15],[-6.25,1.2],[-6.03,.45],[-5.5,.45],[3.75,.9],[4.52,.4],[4.06,.2],[4.84,.05],
[-.95,7.2],[-.85,7.4],[-.75,7],[-.6,6.6],[-.7,6.4],[-.5,5.6],[-.45,5],[-.35,4.4],[-.25,3.9],[-.15,3.3],[-.1,2.9],[-.5,4.5],[-.3,4.9],[-.2,4.6],[.35,3.5],[.45,4.6],[.5,4.9],[.6,4.9],[.7,5.4],[.65,5.8],[.8,5.6],[.85,6.2],[.95,7],[.9,7.4],[.95,8],[.9,8.9],[.95,9.4]];
const cDown=[[-8.18,25.6],[-2.04,25.3],[-1.86,24.6],[-1.8,24.05],[-1.8,23.85],[-1.11,24],[-4.03,23.85],[-2.25,23.7],[-2.14,23.55],[-1.89,23.25],[-2,22.9],[-3.5,22],[-2.4,22.1],[-1.76,21.8],[-1.48,21.7],[-3.5,21.45],[-4.6,20.3],[-2.68,19.55],[-1.48,19.4],[-1.75,19.15],[-1.72,19],[-3.5,18.95],[-3.4,18.7],[-1.27,18.5],[-1.1,18.3],[-1.95,17.9],[-2.28,17.75],[-1.76,17.6],[-1.19,17.9],[-1.3,17.8],[-2.3,17.15],[-2.38,17],[-1.64,17.1],[-1.3,16.9],[-3.63,16.65],[-2.54,16.5],[-1.53,16.55],[-2.54,16.25],[-1.95,16.15],[-2.59,15.6],[-1.25,15.85],[-2.85,15.4],[-1.84,15.15],[-1.8,15],[-1.53,14.9],[-2.07,14.75],[-1.3,15],[-1.13,15],[-4.17,14.5],[-1.1,14.4],[-1.4,14.3],[-1.13,13.9],[-1.56,13.85],[-1.76,13.5],[-1.3,13.55],[-1.65,13.35],[-1.17,13.15],[-1.38,13.2],[-2.03,12.8],[-1.53,12.85],[-1.73,12.4],[-1.5,12.35],[-2.03,12.15],[-1.92,12.15],[-2.43,12.05],[-1.69,12.05],[-1.33,12],[-1.03,11.9],[-1.87,11.75],[-1.6,11.65],[-2.9,11.5],[-1.3,11.55],[-2.93,11],[-3,10.9],[-1.92,11.05],[-1.73,11.05],[-3.05,10.5],[-1.56,10.75],[-1.34,10.45],[-1.25,10.3],[-4.93,10.3],[-3.83,10],[-3.47,10.05],[-2.28,9.7],[-1.48,9.85],[-1.14,9.7],[-1.95,9.45],[-1.76,9.55],[-1.45,9.55],[-1.65,9.2],[-1.8,9.15],[-3.5,9.15],[-3.9,9.1],[-1.22,8.85],[-2.18,8.6],[-1.45,8.45],[-1.3,8.6],[-1.14,8.7],[-1.87,8.2],[-3.65,7.95],[-1.53,8.2],[-1.17,8.2],[-1.3,7.95],[-3.08,7.65],[-3.36,7.45],[-2.35,7.7],[-1.92,7.7],[-2.65,7.4],[-2.54,7.2],[-2.77,7.2],[-1.6,7.75],[-1.38,7.95],[-2.07,7.45],[-1.69,7.45],[-6.5,6.1],
[-2.35,6.81],[-2.17,6.81],[-1.98,6.81],[-1.64,6.93],[-1.48,6.85],[-1.17,6.96],[-1.14,6.63],[-2.54,6.44],[-1.89,6.44],[-2.11,6.37],[-1.64,6.63],[-1.39,6.63],[-1.42,6.37],[-1.08,6.41],[-2.73,6.26],[-2.11,6.15],[-1.64,6.19],[-2.88,5.81],[-2.07,5.93],[-1.89,5.93],[-1.52,5.85],[-1.27,5.89],[-1.08,5.89],[-4.82,5.5],[-4.14,5.5],[-4.01,5.5],[-2.66,5.52],[-2.28,5.47],[-1.86,5.52],[-1.64,5.56],[-1.42,5.67],[-1.11,5.56],[-2.04,5.22],[-1.52,5.37],[-1.27,5.37],[-1.64,5.04],[-1.42,5.15],[-2.35,4.78],[-1.76,4.72],[-1.67,4.72],[-2.25,4.52],[-4.22,4.37],[-3.71,4.37],[-3.46,4.5],[-3.6,4.1],[-2.85,4.37],[-2.7,4.3],[-2.65,4.11],[-2.32,4.3],[-2.39,4.07],[-2.17,4.07],[-1.95,4.35],[-1.76,3.93],[-2.76,3.7],[-3.77,3.56],[-3.02,3.48],[-2.51,3.41],[-2.32,3.41],[-3.04,3.3],[-4.23,3.16],[-3.9,3.16],[-2.91,3.19],[-2.45,3.15],[-1.95,3.67],[-1.98,3.37],[-2.11,3.15],[-2.94,2.96],[-2.7,2.96],[-2.07,2.96],[-2.91,2.74],[-2.45,2.7],[-2.29,2.67],[-3.64,2.48],[-3.42,2.48],[-3.38,2.3],[-3.01,2.48],[-2.82,2.44],[-2.88,2.26],[-2.7,2.26],[-2.45,2.41],[-2.54,2.07],[-3.72,2.02],[-3.72,1.78],[-4.93,1.76],[-4.76,1.76],[-3.25,1.76],[-2.94,1.73],[-2.54,1.76],[-5.45,1.48],[-4.11,1.48],[-3.97,1.48],[-3.72,1.48],[-3.6,1.48],[-3.25,1.48],[-3.07,1.48],[-2.85,1.48],[-2.7,1.48],[-7.43,4.05],[-6.4,1.75],[-4.95,1.75],
[-2.5,1.5],[-2.35,1.5],[-2.7,1.9],[-2.55,2.3],[-2.35,2.2],[-2.3,2.8],[-2.15,2.6],[-2.15,3.2],[-2.05,3.7],[-2.1,4.2],[-1.9,4.1],[-1.75,4.4],[-1.65,3.6],[-1.55,4.2],[-1.45,4.7],[-1.6,5],[-1.35,5],[-1.2,5.6],[-1.3,5.9],[-1.05,5.6],[-1.2,6.2],[-1.3,6.4],[-1.25,6.7],[-1.05,6.6],[-1.05,7.1],[-1.25,7.1],[-1.5,6.7],[-1.55,6.45],[-1.7,6.8],[-1.8,6.5],[-1.75,6.2],[-1.45,6.1],[-1.4,7.3],[-1.15,7.4],[-1.45,7.6],[-1.25,7.8],[-1.05,7.9],[-1.1,8.4],[-1.2,8.9],[-1.1,9.1]];
const cUp=[[1.36,29.8],[1.22,27.95],[2.72,27.7],[2.57,27.15],[1.54,24.6],[1.25,24.25],[1.79,23.15],[3.7,21.5],[2.46,21.4],[4.17,21.1],[3.75,20.7],[1.03,18.5],[1.34,18.55],[1.85,18.1],[3.35,17.7],[1.26,16.8],[1.22,16.65],[1.51,16.35],[1.06,15],[1.85,14.95],[1.03,14.3],[3.98,14.25],[3.24,13.9],[4.91,13.6],[1.54,13.55],[1.53,13.35],[1.08,13.45],[2.13,13.15],[2.2,13.15],[1.23,13.1],[1.05,12.95],[1.11,12.75],[1.26,12.45],[2.01,12.4],[2.12,11.55],[2.04,11.35],[1.57,11.3],[1.78,11.3],[4.79,11.25],[2.58,11.05],[2.71,11.1],[2.75,11.05],[1.54,10.75],[3.3,10.65],[1.11,10.45],[1.73,10.45],[1.54,10.2],[1.37,10.15],[1.67,9.8],[1.88,9.45],[2.12,9.45],[1,9.4],[3.55,9.35],[2.91,9.3],[1.11,9.2],[1.67,9.15],[1.96,9],[1.7,8.55],[1.88,8.6],[2.44,8.5],[3.83,8.25],[4.54,8.25],[1.34,8.3],[1.42,8.2],[1.08,8.05],[1.45,7.7],[1.5,7.5],[1.42,7.35],[1.6,7.3],[1.75,7.2],[1.85,7.05],[1.25,7.6],
[1.05,7.07],[1.24,6.93],[1.33,6.96],[1.14,6.7],[1.3,6.7],[1.08,6.41],[1.24,6.48],[1.17,6.26],[1.11,5.96],[1.24,6.07],[1.8,6.89],[2.01,6.84],[2.37,6.8],[2.63,6.89],[1.71,6.37],[2.02,6.39],[2.04,6.19],[2.35,6.37],[1.68,5.74],[2.57,5.78],[2.66,5.81],[1.75,5.43],[1.08,5.26],[1.22,5.22],[1.39,5.39],[1.55,5.22],[2.32,5.11],[3.27,5.04],[1.05,5],[1.45,4.85],[1.64,4.93],[1.8,4.7],[2.85,4.56],[3.01,4.56],[1.3,4.56],[2.17,4.48],[2.06,4.3],[1.08,4.37],[1.39,4.37],[1.11,4.04],[1.3,3.93],[1.58,4.07],[1.94,3.93],[1.45,3.78],[2.94,3.7],[1.75,3.7],[1.14,3.52],[1.61,3.48],[1.45,3.37],[1.81,3.37],[2.43,3.39],[2.56,3.41],[1.08,3.3],[1.24,3.11],[1.55,2.96],[1.73,3],[1.98,3],[2.11,2.96],[2.17,2.74],[3.73,2.84],[2.87,2.76],[1.86,2.7],[1.86,2.41],[1.92,2.26],[2.14,2.11],[2.73,2.07],[2.42,1.85],[2.57,1.85],[2.6,1.63],[2.09,1.63],[3.5,1.65],[2.54,1.44],[1.8,1.46],[1.95,1.44],[3.32,1.41],[3.94,1.43],[5.04,3.2],
[1.05,3.5],[1.2,3.5],[1.35,3.6],[1.5,3.4],[1.65,3.3],[1.75,3.1],[1.85,2.9],[1.95,2.7],[2.05,2.4],[2.15,1.9],[2.2,1.5],[2.1,2.8],[2.2,2.9],[1.1,4],[1.25,4],[1.4,3.9],[1.55,3.8],[1.7,3.6],[1.2,4.5],[1.45,4.4],[1.6,4.3],[1.05,5.6],[1.15,5.7],[1.2,6.6],[1.3,6.1]];

const SVG_NS='http://www.w3.org/2000/svg';
const COLOR_GRAY='#bebebe';
const COLOR_UP='#ff0000';
const COLOR_DOWN='#00cd00';
const COLOR_LINE='#0000f5';
const COLOR_AXIS='#222222';

function svgEl(tag,attrs,parent){
  const el=document.createElementNS(SVG_NS,tag);
  for(const k in attrs){el.setAttribute(k,attrs[k]);}
  parent.appendChild(el);
  return el;
}

function drawProfile(parent,profile,base,color,xScale,yScale){
  const pts=[];
  pts.push(xScale(profile[0][0])+','+yScale(base));
  profile.forEach(function(p){pts.push(xScale(p[0])+','+yScale(p[1]));});
  pts.push(xScale(profile[profile.length-1][0])+','+yScale(base));
  const el=svgEl('polygon',{points:pts.join(' '),fill:color,stroke:color,'stroke-width':8,'stroke-linejoin':'round'},parent);
  
  
}

function drawPoints(parent,points,color,xScale,yScale){
  points.forEach(function(p){
    const el=svgEl('circle',{cx:xScale(p[0]),cy:yScale(p[1]),r:8,fill:color},parent);
    
    
  });
}

function drawPanel(cfg,gray,grayProfile,down,downProfile,up,upProfile){
  const xScale=function(v){return cfg.left+(v+10)*(cfg.right-cfg.left)/20;};
  const yScale=function(v){return cfg.bottom-v*(cfg.bottom-cfg.top)/30;};
  const marks=document.getElementById('marks-'+cfg.id);
  const axes=document.getElementById('axes-'+cfg.id);

  drawProfile(marks,grayProfile,0,COLOR_GRAY,xScale,yScale);
  drawPoints(marks,gray,COLOR_GRAY,xScale,yScale);
  drawProfile(marks,downProfile,pThreshold,COLOR_DOWN,xScale,yScale);
  drawPoints(marks,down,COLOR_DOWN,xScale,yScale);
  drawProfile(marks,upProfile,pThreshold,COLOR_UP,xScale,yScale);
  drawPoints(marks,up,COLOR_UP,xScale,yScale);

  const box=svgEl('rect',{x:cfg.left,y:cfg.top,width:cfg.right-cfg.left,height:cfg.bottom-cfg.top,fill:'none',stroke:COLOR_AXIS,'stroke-width':3.5},axes);
  
  

  fcThresholds.forEach(function(v){
    const l=svgEl('line',{x1:xScale(v),x2:xScale(v),y1:cfg.top,y2:cfg.bottom,stroke:COLOR_LINE,'stroke-width':6},axes);
    
    
  });
  const pl=svgEl('line',{x1:cfg.left,x2:cfg.right,y1:yScale(pThreshold),y2:yScale(pThreshold),stroke:COLOR_LINE,'stroke-width':6},axes);
  
  

  xTickValues.forEach(function(v,i){
    const t=svgEl('line',{x1:xScale(v),x2:xScale(v),y1:cfg.bottom,y2:cfg.bottom+31,stroke:COLOR_AXIS,'stroke-width':3.5},axes);
    
    
    if(xTickLabels[i]){
      const lab=svgEl('text',{x:xScale(v)+cfg.xLabelOffsets[i],y:cfg.bottom+cfg.xLabelDrop,'font-size':69,'text-anchor':'middle'},axes);
      lab.textContent=xTickLabels[i];
      
      
    }
  });

  yTickValues.forEach(function(v,i){
    const t=svgEl('line',{x1:cfg.left-31,x2:cfg.left,y1:yScale(v),y2:yScale(v),stroke:COLOR_AXIS,'stroke-width':3.5},axes);
    
    
    const lab=svgEl('text',{x:cfg.yLabelRight,y:yScale(v)+25,'font-size':69,'text-anchor':'end'},axes);
    lab.textContent=yTickLabels[i];
    
    
  });

  const pt=svgEl('line',{x1:cfg.left-31,x2:cfg.left,y1:yScale(pThreshold),y2:yScale(pThreshold),stroke:COLOR_AXIS,'stroke-width':3.5},axes);
  
  
  const plab=svgEl('text',{x:cfg.yLabelRight+2,y:yScale(pThreshold)+24,'font-size':69,'text-anchor':'end'},axes);
  plab.textContent=pLabel;
  
  
}

drawPanel({id:'a',left:306,right:1948,top:180,bottom:1731,yLabelRight:261,xLabelDrop:107,xLabelOffsets:[-10,-7,-29,0,25,-1,1]},aGray,aGrayProfile,aDown,aDownProfile,aUp,aUpProfile);
drawPanel({id:'b',left:2371,right:4013,top:185,bottom:1737,yLabelRight:2322,xLabelDrop:122,xLabelOffsets:[0,1,-14,0,38,4,-9]},bGray,bGrayProfile,bDown,bDownProfile,bUp,bUpProfile);
drawPanel({id:'c',left:1151,right:2793,top:2219,bottom:3770,yLabelRight:1110,xLabelDrop:117,xLabelOffsets:[-2,-5,-12,0,24,0,0]},cGray,cGrayProfile,cDown,cDownProfile,cUp,cUpProfile);
</script>
</body>
</html>
